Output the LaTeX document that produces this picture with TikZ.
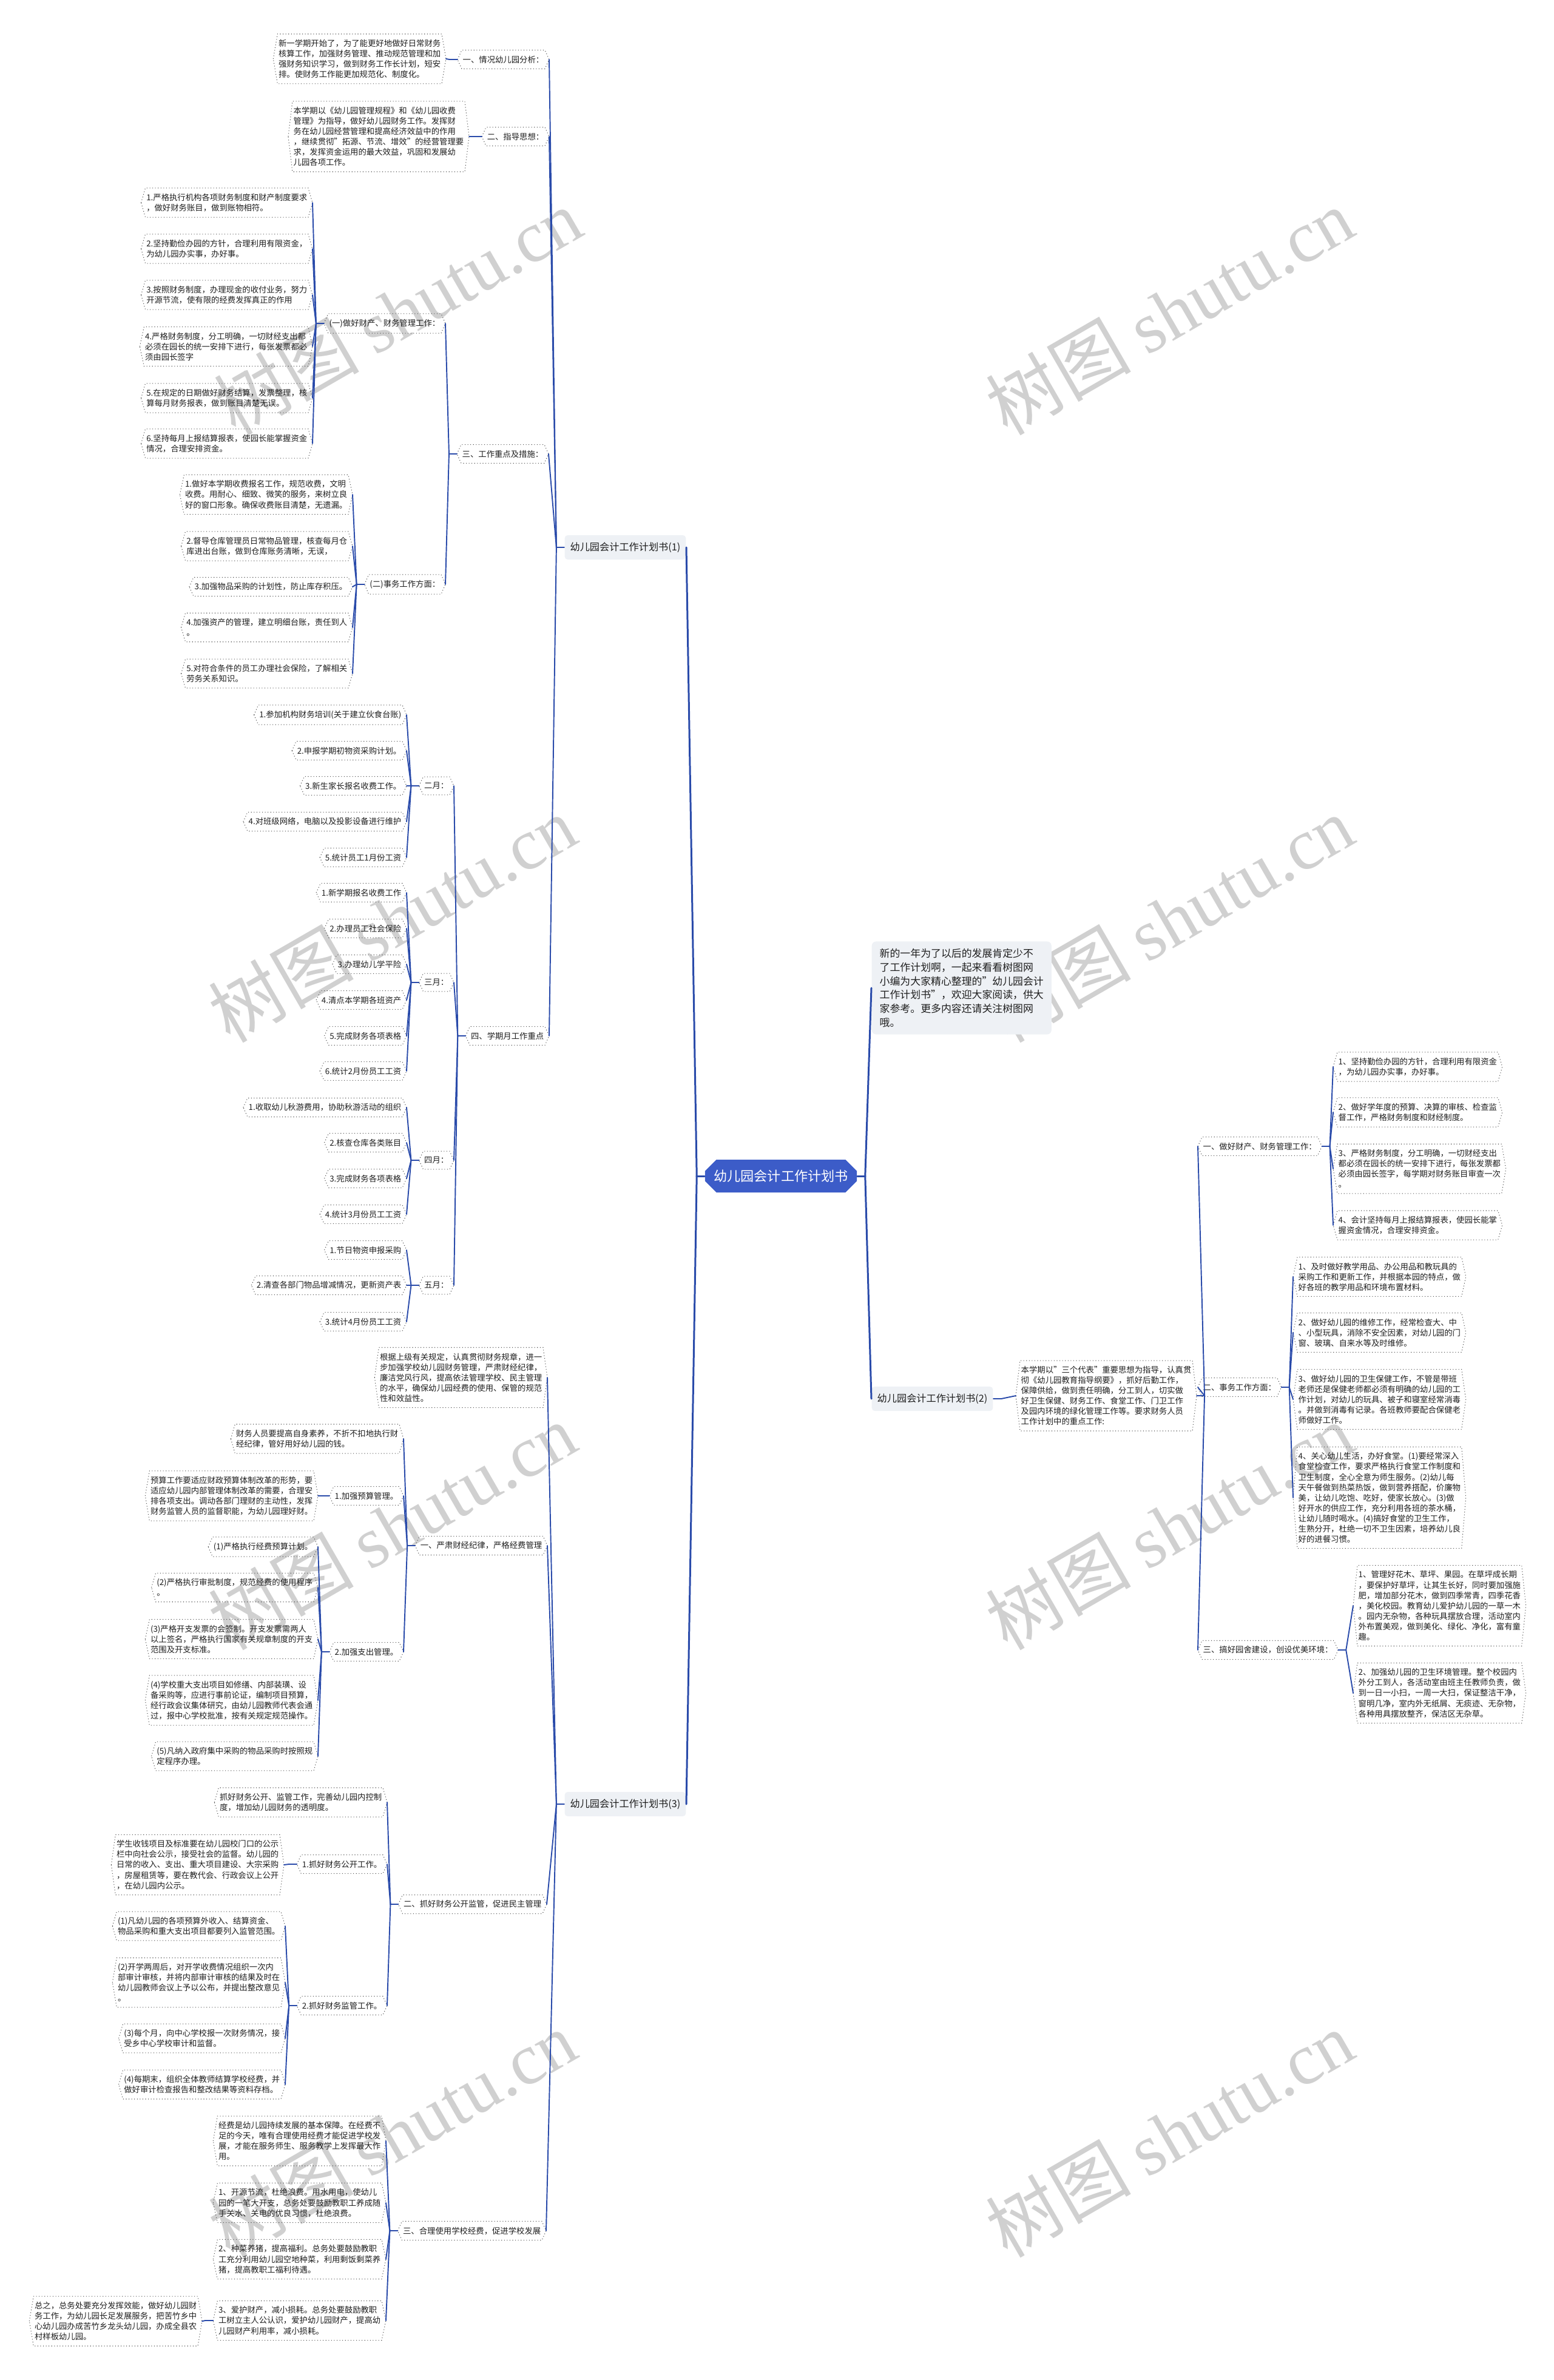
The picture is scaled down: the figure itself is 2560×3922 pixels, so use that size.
\documentclass[tikz,border=0pt]{standalone}
\usepackage{fontspec}
\setmainfont{Noto Sans CJK SC}
\newfontfamily\wmlatin{Liberation Serif}
\usetikzlibrary{shapes.misc}
\definecolor{linkblue}{RGB}{42,75,170}
\definecolor{rootblue}{RGB}{60,92,200}
\definecolor{paper}{RGB}{238,241,245}
\definecolor{ink}{RGB}{30,30,30}
\definecolor{wmgray}{RGB}{208,208,208}
\newlength{\hextip}\setlength{\hextip}{0.07cm}
\newlength{\fangap}\setlength{\fangap}{0.13cm}
\newcommand{\leaffont}{\fontsize{3.8pt}{4.85pt}\selectfont}
\newcommand{\planfont}{\fontsize{4.6pt}{5.6pt}\selectfont}
\newcommand{\introfont}{\fontsize{4.8pt}{6.45pt}\selectfont}
\newcommand{\rootfont}{\fontsize{6.3pt}{7.5pt}\selectfont}
\tikzset{
  leafbox/.style={font=\leaffont, text=ink, align=left, inner xsep=0.08cm, inner ysep=2.4pt},
  hexframe/.style={draw=black!70, densely dotted, line width=0.3pt},
  conn/.style={draw=linkblue, line width=0.55pt, line join=round, line cap=round},
  trunkline/.style={draw=linkblue, line width=0.85pt, line join=round, line cap=round},
  planbox/.style={fill=paper, rounded corners=0.05cm, font=\planfont, text=ink,
                  inner xsep=0.09cm, minimum height=0.37cm},
  introbox/.style={fill=paper, rounded corners=0.07cm, font=\introfont, text=ink,
                   align=left, inner xsep=0.13cm, inner ysep=0.12cm},
  rootbox/.style={chamfered rectangle, chamfered rectangle xsep=0.06cm, fill=rootblue,
                  text=white, font=\rootfont, minimum width=2.5cm, minimum height=0.54cm, inner sep=0pt},
  wmtext/.style={text=wmgray, rotate=30, font=\fontsize{34pt}{34pt}\selectfont},
}
% dotted hexagon box: name, anchor, position, text
\newcommand{\hexnode}[4]{%
  \node[leafbox, anchor=#2] (#1) at (#3) {#4};
  \draw[hexframe] (#1.west) -- ([xshift=\hextip]#1.north west) -- ([xshift=-\hextip]#1.north east)
    -- (#1.east) -- ([xshift=-\hextip]#1.south east) -- ([xshift=\hextip]#1.south west) -- cycle;}
% fan of connectors to children on the left / right
\newcommand{\fanleft}[3][conn]{%
  \draw[#1] (#2.west) -- ([xshift=-\fangap]#2.west) coordinate (#2-j);
  \foreach \c in {#3} {\draw[#1] (#2-j) -- (\c.east);}}
\newcommand{\fanright}[3][conn]{%
  \draw[#1] (#2.east) -- ([xshift=\fangap]#2.east) coordinate (#2-j);
  \foreach \c in {#3} {\draw[#1] (#2-j) -- (\c.west);}}

\begin{document}
\begin{tikzpicture}[x=0.01cm, y=-0.01cm]
  \useasboundingbox (0,0) rectangle (2560,3922);
  % watermark
  \foreach \wx/\wy [count=\i] in {655/513, 1927/513, 646/1514, 1927/1514, 646/2515, 1927/2515, 646/3516, 1927/3516}
    \node[wmtext] (wm\i) at (\wx,\wy) {树图 {\wmlatin shutu.cn}};

  \node[rootbox] (root) at (1287,1938) {幼儿园会计工作计划书};

  % plan (1)
  \node[planbox, anchor=east] (b1) at (1131,902) {幼儿园会计工作计划书(1)};
  \hexnode{p1s1}{east}{905,98}{一、情况幼儿园分析：}
  \hexnode{p1s1a}{east}{735,97}{新一学期开始了，为了能更好地做好日常财务\\核算工作，加强财务管理、推动规范管理和加\\强财务知识学习，做到财务工作长计划，短安\\排。使财务工作能更加规范化、制度化。}
  \hexnode{p1s2}{east}{905,225}{二、指导思想：}
  \hexnode{p1s2a}{east}{773,225}{本学期以《幼儿园管理规程》和《幼儿园收费\\管理》为指导，做好幼儿园财务工作。发挥财\\务在幼儿园经营管理和提高经济效益中的作用\\，继续贯彻"拓源、节流、增效"的经营管理要\\求，发挥资金运用的最大效益，巩固和发展幼\\儿园各项工作。}
  \hexnode{p1s3}{east}{904,748}{三、工作重点及措施：}
  \hexnode{p1g1}{east}{734,533}{(一)做好财产、财务管理工作：}
  \hexnode{p1g1a}{east}{515,334}{1.严格执行机构各项财务制度和财产制度要求\\，做好财务账目，做到账物相符。}
  \hexnode{p1g1b}{east}{515,410}{2.坚持勤俭办园的方针，合理利用有限资金，\\为幼儿园办实事，办好事。}
  \hexnode{p1g1c}{east}{515,486}{3.按照财务制度，办理现金的收付业务，努力\\开源节流，使有限的经费发挥真正的作用}
  \hexnode{p1g1d}{east}{515,571}{4.严格财务制度，分工明确，一切财经支出都\\必须在园长的统一安排下进行，每张发票都必\\须由园长签字}
  \hexnode{p1g1e}{east}{515,656}{5.在规定的日期做好财务结算，发票整理，核\\算每月财务报表，做到账目清楚无误。}
  \hexnode{p1g1f}{east}{515,731}{6.坚持每月上报结算报表，使园长能掌握资金\\情况，合理安排资金。}
  \hexnode{p1g2}{east}{734,963}{(二)事务工作方面：}
  \hexnode{p1g2a}{east}{581,815}{1.做好本学期收费报名工作，规范收费，文明\\收费。用耐心、细致、微笑的服务，来树立良\\好的窗口形象。确保收费账目清楚，无遗漏。}
  \hexnode{p1g2b}{east}{581,900}{2.督导仓库管理员日常物品管理，核查每月仓\\库进出台账，做到仓库账务清晰，无误，}
  \hexnode{p1g2c}{east}{581,967}{3.加强物品采购的计划性，防止库存积压。}
  \hexnode{p1g2d}{east}{581,1034}{4.加强资产的管理，建立明细台账，责任到人\\。}
  \hexnode{p1g2e}{east}{581,1110}{5.对符合条件的员工办理社会保险，了解相关\\劳务关系知识。}
  \hexnode{p1s4}{east}{905,1707}{四、学期月工作重点}
  \hexnode{feb}{east}{748,1295}{二月：}
  \hexnode{feb1}{east}{670,1178}{1.参加机构财务培训(关于建立伙食台账)}
  \hexnode{feb2}{east}{670,1237}{2.申报学期初物资采购计划。}
  \hexnode{feb3}{east}{670,1295}{3.新生家长报名收费工作。}
  \hexnode{feb4}{east}{670,1354}{4.对班级网络，电脑以及投影设备进行维护}
  \hexnode{feb5}{east}{670,1413}{5.统计员工1月份工资}
  \hexnode{mar}{east}{748,1619}{三月：}
  \hexnode{mar1}{east}{670,1471}{1.新学期报名收费工作}
  \hexnode{mar2}{east}{670,1530}{2.办理员工社会保险}
  \hexnode{mar3}{east}{670,1589}{3.办理幼儿学平险}
  \hexnode{mar4}{east}{670,1648}{4.清点本学期各班资产}
  \hexnode{mar5}{east}{670,1707}{5.完成财务各项表格}
  \hexnode{mar6}{east}{670,1765}{6.统计2月份员工工资}
  \hexnode{apr}{east}{748,1912}{四月：}
  \hexnode{apr1}{east}{670,1825}{1.收取幼儿秋游费用，协助秋游活动的组织}
  \hexnode{apr2}{east}{670,1883}{2.核查仓库各类账目}
  \hexnode{apr3}{east}{670,1942}{3.完成财务各项表格}
  \hexnode{apr4}{east}{670,2001}{4.统计3月份员工工资}
  \hexnode{may}{east}{748,2118}{五月：}
  \hexnode{may1}{east}{670,2060}{1.节日物资申报采购}
  \hexnode{may2}{east}{670,2118}{2.清查各部门物品增减情况，更新资产表}
  \hexnode{may3}{east}{670,2178}{3.统计4月份员工工资}

  % plan (3)
  \node[planbox, anchor=east] (b3) at (1131,2973) {幼儿园会计工作计划书(3)};
  \hexnode{p3s0}{east}{902,2270}{根据上级有关规定，认真贯彻财务规章，进一\\步加强学校幼儿园财务管理，严肃财经纪律，\\廉洁党风行风，提高依法管理学校、民主管理\\的水平，确保幼儿园经费的使用、保管的规范\\性和效益性。}
  \hexnode{p3s1}{east}{902,2547}{一、严肃财经纪律，严格经费管理}
  \hexnode{p3s1a}{east}{665,2371}{财务人员要提高自身素养，不折不扣地执行财\\经纪律，管好用好幼儿园的钱。}
  \hexnode{p3s1b}{east}{665,2465}{1.加强预算管理。}
  \hexnode{p3s1b1}{east}{524,2465}{预算工作要适应财政预算体制改革的形势，要\\适应幼儿园内部管理体制改革的需要，合理安\\排各项支出。调动各部门理财的主动性，发挥\\财务监管人员的监督职能，为幼儿园理好财。}
  \hexnode{p3s1c}{east}{665,2722}{2.加强支出管理。}
  \hexnode{p3s1c1}{east}{524,2549}{(1)严格执行经费预算计划。}
  \hexnode{p3s1c2}{east}{524,2616}{(2)严格执行审批制度，规范经费的使用程序\\。}
  \hexnode{p3s1c3}{east}{524,2701}{(3)严格开支发票的会签制。开支发票需两人\\以上签名，严格执行国家有关规章制度的开支\\范围及开支标准。}
  \hexnode{p3s1c4}{east}{524,2802}{(4)学校重大支出项目如修缮、内部装璜、设\\备采购等，应进行事前论证，编制项目预算，\\经行政会议集体研究，由幼儿园教师代表会通\\过，报中心学校批准，按有关规定规范操作。}
  \hexnode{p3s1c5}{east}{524,2894}{(5)凡纳入政府集中采购的物品采购时按照规\\定程序办理。}
  \hexnode{p3s2}{east}{901,3138}{二、抓好财务公开监管，促进民主管理}
  \hexnode{p3s2a}{east}{638,2970}{抓好财务公开、监管工作，完善幼儿园内控制\\度，增加幼儿园财务的透明度。}
  \hexnode{p3s2b}{east}{638,3072}{1.抓好财务公开工作。}
  \hexnode{p3s2b1}{east}{468,3073}{学生收钱项目及标准要在幼儿园校门口的公示\\栏中向社会公示，接受社会的监督。幼儿园的\\日常的收入、支出、重大项目建设、大宗采购\\，房屋租赁等，要在教代会、行政会议上公开\\，在幼儿园内公示。}
  \hexnode{p3s2c}{east}{638,3305}{2.抓好财务监管工作。}
  \hexnode{p3s2c1}{east}{470,3174}{(1)凡幼儿园的各项预算外收入、结算资金、\\物品采购和重大支出项目都要列入监管范围。}
  \hexnode{p3s2c2}{east}{470,3267}{(2)开学两周后，对开学收费情况组织一次内\\部审计审核，并将内部审计审核的结果及时在\\幼儿园教师会议上予以公布，并提出整改意见\\。}
  \hexnode{p3s2c3}{east}{470,3359}{(3)每个月，向中心学校报一次财务情况，接\\受乡中心学校审计和监督。}
  \hexnode{p3s2c4}{east}{470,3435}{(4)每期末，组织全体教师结算学校经费，并\\做好审计检查报告和整改结果等资料存档。}
  \hexnode{p3s3}{east}{900,3676}{三、合理使用学校经费，促进学校发展}
  \hexnode{p3s3a}{east}{636,3528}{经费是幼儿园持续发展的基本保障。在经费不\\足的今天，唯有合理使用经费才能促进学校发\\展，才能在服务师生、服务教学上发挥最大作\\用。}
  \hexnode{p3s3b}{east}{636,3630}{1、开源节流，杜绝浪费。用水用电，使幼儿\\园的一笔大开支，总务处要鼓励教职工养成随\\手关水、关电的优良习惯，杜绝浪费。}
  \hexnode{p3s3c}{east}{636,3723}{2、种菜养猪，提高福利。总务处要鼓励教职\\工充分利用幼儿园空地种菜，利用剩饭剩菜养\\猪，提高教职工福利待遇。}
  \hexnode{p3s3d}{east}{636,3824}{3、爱护财产，减小损耗。总务处要鼓励教职\\工树立主人公认识，爱护幼儿园财产，提高幼\\儿园财产利用率，减小损耗。}
  \hexnode{p3s3d1}{east}{333,3825}{总之，总务处要充分发挥效能，做好幼儿园财\\务工作，为幼儿园长足发展服务，把苦竹乡中\\心幼儿园办成苦竹乡龙头幼儿园，办成全县农\\村样板幼儿园。}

  % right half
  \node[introbox, anchor=west] (intro) at (1436,1628) {新的一年为了以后的发展肯定少不\\了工作计划啊，一起来看看树图网\\小编为大家精心整理的"幼儿园会计\\工作计划书"，欢迎大家阅读，供大\\家参考。更多内容还请关注树图网\\哦。};
  \node[planbox, anchor=west] (b2) at (1436,2305) {幼儿园会计工作计划书(2)};
  \hexnode{p2s0}{west}{1674,2300}{本学期以"三个代表"重要思想为指导，认真贯\\彻《幼儿园教育指导纲要》，抓好后勤工作，\\保障供给，做到责任明确，分工到人，切实做\\好卫生保健、财务工作、食堂工作、门卫工作\\及园内环境的绿化管理工作等。要求财务人员\\工作计划中的重点工作:}
  \hexnode{p2s1}{west}{1974,1889}{一、做好财产、财务管理工作：}
  \hexnode{p2s1a}{west}{2197,1758}{1、坚持勤俭办园的方针，合理利用有限资金\\，为幼儿园办实事，办好事。}
  \hexnode{p2s1b}{west}{2197,1833}{2、做好学年度的预算、决算的审核、检查监\\督工作，严格财务制度和财经制度。}
  \hexnode{p2s1c}{west}{2197,1926}{3、严格财务制度，分工明确，一切财经支出\\都必须在园长的统一安排下进行，每张发票都\\必须由园长签字，每学期对财务账目审查一次\\。}
  \hexnode{p2s1d}{west}{2197,2019}{4、会计坚持每月上报结算报表，使园长能掌\\握资金情况，合理安排资金。}
  \hexnode{p2s2}{west}{1974,2286}{二、事务工作方面：}
  \hexnode{p2s2a}{west}{2131,2104}{1、及时做好教学用品、办公用品和教玩具的\\采购工作和更新工作，并根据本园的特点，做\\好各班的教学用品和环境布置材料。}
  \hexnode{p2s2b}{west}{2131,2196}{2、做好幼儿园的维修工作，经常检查大、中\\、小型玩具，消除不安全因素，对幼儿园的门\\窗、玻璃、自来水等及时维修。}
  \hexnode{p2s2c}{west}{2131,2306}{3、做好幼儿园的卫生保健工作，不管是带班\\老师还是保健老师都必须有明确的幼儿园的工\\作计划，对幼儿的玩具、被子和寝室经常消毒\\。并做到消毒有记录。各班教师要配合保健老\\师做好工作。}
  \hexnode{p2s2d}{west}{2131,2468}{4、关心幼儿生活，办好食堂。(1)要经常深入\\食堂检查工作，要求严格执行食堂工作制度和\\卫生制度，全心全意为师生服务。(2)幼儿每\\天午餐做到热菜热饭，做到营养搭配，价廉物\\美，让幼儿吃饱、吃好，使家长放心。(3)做\\好开水的供应工作，充分利用各班的茶水桶，\\让幼儿随时喝水。(4)搞好食堂的卫生工作，\\生熟分开，杜绝一切不卫生因素，培养幼儿良\\好的进餐习惯。}
  \hexnode{p2s3}{west}{1974,2719}{三、搞好园舍建设，创设优美环境：}
  \hexnode{p2s3a}{west}{2230,2646}{1、管理好花木、草坪、果园。在草坪成长期\\，要保护好草坪，让其生长好，同时要加强施\\肥，增加部分花木，做到四季常青，四季花香\\，美化校园。教育幼儿爱护幼儿园的一草一木\\。园内无杂物，各种玩具摆放合理，活动室内\\外布置美观，做到美化、绿化、净化，富有童\\趣。}
  \hexnode{p2s3b}{west}{2230,2790}{2、加强幼儿园的卫生环境管理。整个校园内\\外分工到人，各活动室由班主任教师负责，做\\到一日一小扫，一周一大扫，保证整洁干净，\\窗明几净，室内外无纸屑、无痰迹、无杂物，\\各种用具摆放整齐，保洁区无杂草。}

  % connectors
  \fanleft[trunkline]{root}{b1,b3}
  \fanright[trunkline]{root}{intro,b2}
  \fanleft{b1}{p1s1,p1s2,p1s3,p1s4}
  \fanleft{p1s1}{p1s1a}
  \fanleft{p1s2}{p1s2a}
  \fanleft{p1s3}{p1g1,p1g2}
  \fanleft{p1g1}{p1g1a,p1g1b,p1g1c,p1g1d,p1g1e,p1g1f}
  \fanleft{p1g2}{p1g2a,p1g2b,p1g2c,p1g2d,p1g2e}
  \fanleft{p1s4}{feb,mar,apr,may}
  \fanleft{feb}{feb1,feb2,feb3,feb4,feb5}
  \fanleft{mar}{mar1,mar2,mar3,mar4,mar5,mar6}
  \fanleft{apr}{apr1,apr2,apr3,apr4}
  \fanleft{may}{may1,may2,may3}
  \fanleft{b3}{p3s0,p3s1,p3s2,p3s3}
  \fanleft{p3s1}{p3s1a,p3s1b,p3s1c}
  \fanleft{p3s1b}{p3s1b1}
  \fanleft{p3s1c}{p3s1c1,p3s1c2,p3s1c3,p3s1c4,p3s1c5}
  \fanleft{p3s2}{p3s2a,p3s2b,p3s2c}
  \fanleft{p3s2b}{p3s2b1}
  \fanleft{p3s2c}{p3s2c1,p3s2c2,p3s2c3,p3s2c4}
  \fanleft{p3s3}{p3s3a,p3s3b,p3s3c,p3s3d}
  \fanleft{p3s3d}{p3s3d1}
  \fanright{b2}{p2s0}
  \fanright{p2s0}{p2s1,p2s2,p2s3}
  \fanright{p2s1}{p2s1a,p2s1b,p2s1c,p2s1d}
  \fanright{p2s2}{p2s2a,p2s2b,p2s2c,p2s2d}
  \fanright{p2s3}{p2s3a,p2s3b}
\end{tikzpicture}
\end{document}
